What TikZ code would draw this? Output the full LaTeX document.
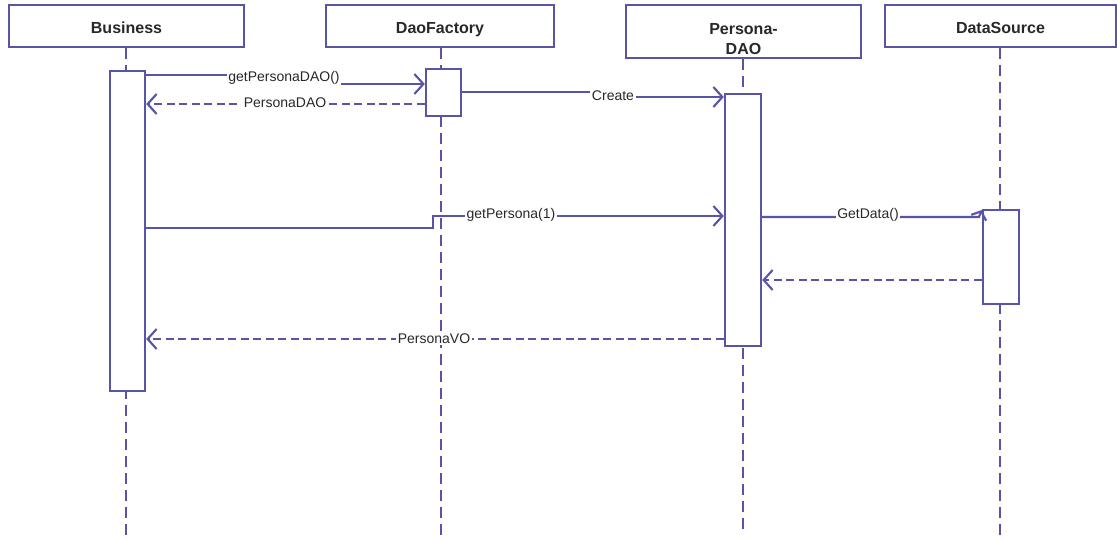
\documentclass[tikz,border=0pt]{standalone}
\usepackage{fontspec}
\setmainfont{Liberation Sans}
\usetikzlibrary{arrows.meta}
\definecolor{seq}{RGB}{88,84,166}
\definecolor{txt}{RGB}{40,40,40}
\tikzset{
  head/.style={draw=seq, line width=2.4pt, fill=white, text=txt, font=\fontsize{16}{20}\selectfont\bfseries, align=center, inner sep=0pt},
  act/.style={draw=seq, line width=2.4pt, fill=white, inner sep=0pt},
  life/.style={draw=seq, line width=2.3pt, dash pattern=on 11pt off 6pt},
  msg/.style={draw=seq, line width=2.1pt, -{Straight Barb[length=9pt,width=20pt,line width=2.1pt]}},
  ret/.style={msg, dash pattern=on 8pt off 4.5pt},
  lbl/.style={fill=white, text=txt, font=\fontsize{14}{16}\selectfont, inner sep=1.5pt}
}
\begin{document}
\begin{tikzpicture}[x=1pt,y=-1pt]
\useasboundingbox (0,0) rectangle (1117,540);
\fill[white] (0,0) rectangle (1117,540);
% heads
\node[head, minimum width=235pt, minimum height=42pt, text height=16pt, text depth=0pt] (hB) at (126.5,26) {Business};
\node[head, minimum width=228pt, minimum height=42pt, text height=16pt, text depth=0pt] (hD) at (440,26) {DaoFactory};
\node[head, minimum width=235pt, minimum height=53pt] (hP) at (743.5,31.5) {\rule{0pt}{27pt}Persona-\\DAO};
\node[head, minimum width=231pt, minimum height=42pt, text height=16pt, text depth=0pt] (hS) at (1000.5,26) {DataSource};
% lifelines
\coordinate (eB) at (126,535);
\coordinate (eD) at (441,535);
\coordinate (eP) at (743,535);
\coordinate (eS) at (1000,535);
\draw[life] (hB.south -| eB) -- (eB);
\draw[life] (hD.south -| eD) -- (eD);
\draw[life] (hP.south -| eP) -- (eP);
\draw[life] (hS.south -| eS) -- (eS);
% activations
\node[act, minimum width=35pt, minimum height=320pt] (aB) at (127.5,231) {};
\node[act, minimum width=35pt, minimum height=47pt] (aD) at (443.5,92.5) {};
\node[act, minimum width=36pt, minimum height=252pt] (aP) at (743,220) {};
\node[act, minimum width=36pt, minimum height=94pt] (aS) at (1001,257) {};
% messages
\draw[msg] (aB.east |- 0,75) -- (284,75) -- (284,84) -- (aD.west |- 0,84);
\node[lbl] (l1) at (284,78) {getPersonaDAO()};
\draw[ret] (aD.west |- 0,104) -- (aB.east |- 0,104);
\node[lbl] (l2) at (285,103) {PersonaDAO};
\draw[msg] (aD.east |- 0,92) -- (613,92) -- (613,97) -- (aP.west |- 0,97);
\node[lbl] (l3) at (613,96) {Create};
\draw[msg] (aB.east |- 0,228) -- (433,228) -- (433,216) -- (aP.west |- 0,216);
\node[lbl] (l4) at (511,215) {getPersona(1)};
\draw[msg, -{Straight Barb[length=7pt,width=16pt,line width=2.1pt]}] (aP.east |- 0,217) -- (979,217) -- (aS.west |- 0,210);
\node[lbl] (l5) at (868,215) {GetData()};
\draw[ret] (aS.west |- 0,280) -- (aP.east |- 0,280);
\draw[ret] (aP.west |- 0,339) -- (aB.east |- 0,339);
\node[lbl] (l6) at (434,339) {PersonaVO};
\end{tikzpicture}
\end{document}
